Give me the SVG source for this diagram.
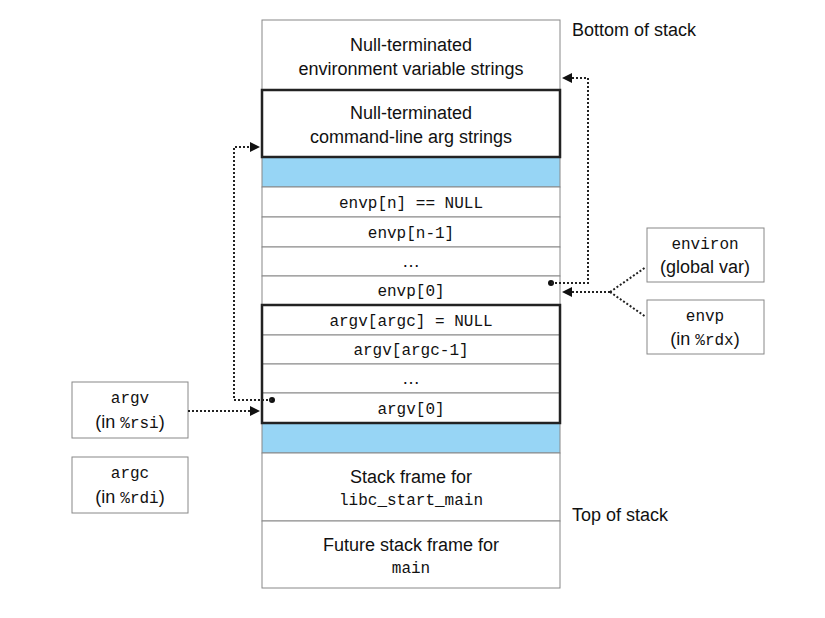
<svg xmlns="http://www.w3.org/2000/svg" width="825" height="618" viewBox="0 0 825 618">
<style>
.s{font-family:"Liberation Sans",Arial,sans-serif;font-size:18px;fill:#111;text-anchor:middle}
.m{font-family:"Liberation Mono","Courier New",monospace;font-size:16px;fill:#111;text-anchor:middle}
.c{fill:#fff;stroke:#888;stroke-width:1}
.b{fill:#97d5f5;stroke:#888;stroke-width:1}
.t{fill:none;stroke:#222;stroke-width:2.5}
.d{fill:none;stroke:#222;stroke-width:2;stroke-dasharray:2,2}
.l{font-family:"Liberation Sans",Arial,sans-serif;font-size:18px;fill:#111}
</style>
<defs><marker id="a" markerWidth="10" markerHeight="10" refX="9" refY="5" orient="auto" markerUnits="userSpaceOnUse"><path d="M0,0 L10,5 L0,10z" fill="#111"/></marker></defs>
<rect width="825" height="618" fill="#fff"/>
<g id="stack">
<rect class="c" x="262" y="20" width="298" height="70"/>
<text class="s" x="411" y="51">Null-terminated</text><text class="s" x="411" y="75">environment variable strings</text>
<rect class="c" x="262" y="90" width="298" height="67"/>
<text class="s" x="411" y="119">Null-terminated</text><text class="s" x="411" y="143">command-line arg strings</text>
<rect class="b" x="262" y="157" width="298" height="30"/>
<rect class="c" x="262" y="187" width="298" height="30"/><text class="m" x="411" y="208">envp[n] == NULL</text>
<rect class="c" x="262" y="217" width="298" height="30"/><text class="m" x="411" y="238">envp[n-1]</text>
<rect class="c" x="262" y="247" width="298" height="29"/><text class="s" x="411" y="267">…</text>
<rect class="c" x="262" y="276" width="298" height="29"/><text class="m" x="411" y="296">envp[0]</text>
<rect class="c" x="262" y="305" width="298" height="30"/><text class="m" x="411" y="326">argv[argc] = NULL</text>
<rect class="c" x="262" y="335" width="298" height="29"/><text class="m" x="411" y="355">argv[argc-1]</text>
<rect class="c" x="262" y="364" width="298" height="29"/><text class="s" x="411" y="384">…</text>
<rect class="c" x="262" y="393" width="298" height="30"/><text class="m" x="411" y="414">argv[0]</text>
<rect class="b" x="262" y="423" width="298" height="30"/>
<rect class="c" x="262" y="453" width="298" height="68"/>
<text class="s" x="411" y="483">Stack frame for</text><text class="m" x="411" y="505">libc_start_main</text>
<rect class="c" x="262" y="521" width="298" height="67"/>
<text class="s" x="411" y="551">Future stack frame for</text><text class="m" x="411" y="573">main</text>
<rect class="t" x="262" y="90" width="298" height="67"/>
<rect class="t" x="262" y="305" width="298" height="118"/>
</g>
<g id="labels">
<text class="l" x="572" y="36">Bottom of stack</text>
<text class="l" x="572" y="521">Top of stack</text>
</g>
<g id="environ"><rect class="c" x="647" y="228" width="117" height="54"/><text class="m" x="705" y="249">environ</text><text class="s" x="705" y="273">(global var)</text></g>
<g id="envp"><rect class="c" x="647" y="300" width="117" height="54"/><text class="m" x="705" y="321">envp</text><text class="s" x="705" y="345">(in <tspan class="m" style="font-size:16px">%rdx</tspan>)</text></g>
<g id="argv"><rect class="c" x="72" y="382" width="116" height="56"/><text class="m" x="130" y="403">argv</text><text class="s" x="130" y="428">(in <tspan style="font-family:'Liberation Mono',monospace;font-size:16px">%rsi</tspan>)</text></g>
<g id="argc"><rect class="c" x="72" y="457" width="116" height="56"/><text class="m" x="130" y="478">argc</text><text class="s" x="130" y="503">(in <tspan style="font-family:'Liberation Mono',monospace;font-size:16px">%rdi</tspan>)</text></g>
<g id="connectors">
<circle cx="551" cy="283" r="3" fill="#111"/>
<polyline class="d" points="551,283 588,283 588,78 563,78" marker-end="url(#a)"/>
<polyline class="d" points="610,292 563,292" marker-end="url(#a)"/>
<line class="d" x1="610" y1="292" x2="646" y2="267"/>
<line class="d" x1="610" y1="292" x2="646" y2="317"/>
<circle cx="272" cy="400" r="3" fill="#111"/>
<polyline class="d" points="272,400 234,400 234,147 259,147" marker-end="url(#a)"/>
<polyline class="d" points="188,411 259,411" marker-end="url(#a)"/>
</g>
</svg>
